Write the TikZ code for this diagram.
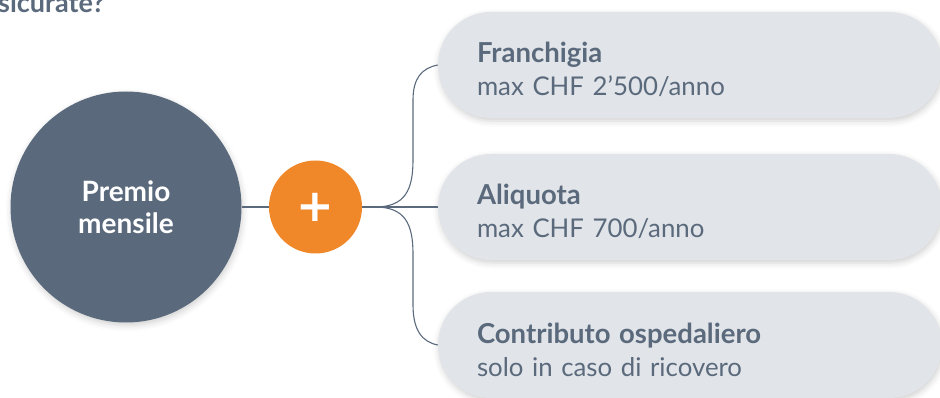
\documentclass[tikz,border=0pt]{standalone}
\usepackage{fontspec}
\setmainfont{Lato}
\newfontfamily\segno{DejaVu Sans}
\usetikzlibrary{calc}
\usetikzlibrary{shadows.blur}

\definecolor{slate}{HTML}{5A6A7C}
\definecolor{pill}{HTML}{E1E4E8}
\definecolor{arancio}{HTML}{F0882A}

\newcommand{\voce}[2]{{\bfseries\fontsize{27.5}{33}\selectfont\rule{0pt}{30pt}#1}\\#2}

\begin{document}
\begin{tikzpicture} [x=1pt,y=-1pt,
  soft/.style={blur shadow={shadow xshift=1pt, shadow yshift=-3pt, shadow blur radius=6pt, shadow opacity=18}},
  pillbox/.style={soft, fill=pill, rounded corners=53pt, minimum width=504pt, minimum height=106pt,
    text width=426pt, align=left, inner xsep=39pt, text=slate, font=\fontsize{25.8}{33}\selectfont},
  link/.style={slate, line width=1.1pt}]
\useasboundingbox (0,0) rectangle (940,398);

\node[anchor=base west, text=slate, font=\bfseries\fontsize{27}{32}\selectfont, inner sep=0] (titolo) at (-2,13) {sicurate?};

\node[soft, circle, fill=slate, minimum size=231pt, align=center, text=white, font=\bfseries\fontsize{28}{32}\selectfont] (premio) at (126,207) {Premio\\mensile};
\node[circle, fill=arancio, minimum size=93pt, inner sep=0, text=white, font=\segno\bfseries\fontsize{45}{45}\selectfont] (plus) at (315.5,207) {+};

\node[pillbox] (franchigia) at (690,65) {\voce{Franchigia}{max CHF 2’500/anno}};
\node[pillbox] (aliquota) at (690,207) {\voce{Aliquota}{max CHF 700/anno}};
\node[pillbox] (contributo) at (690,345) {\voce{Contributo ospedaliero}{solo in caso di ricovero}};

\draw[link] (premio) -- (plus);
\draw[link] (plus.east) -- ++(13,0) coordinate (fork);
\draw[link] (fork) -- (aliquota.west);
\draw[link] (fork) .. controls (405,207) and (413,190) .. (413,160) -- (413,100) .. controls (413,78) and (422,68) .. (franchigia.west);
\draw[link] (fork) .. controls (405,207) and (413,224) .. (413,254) -- (413,305) .. controls (413,330) and (422,342) .. (contributo.west);

\end{tikzpicture}
\end{document}
